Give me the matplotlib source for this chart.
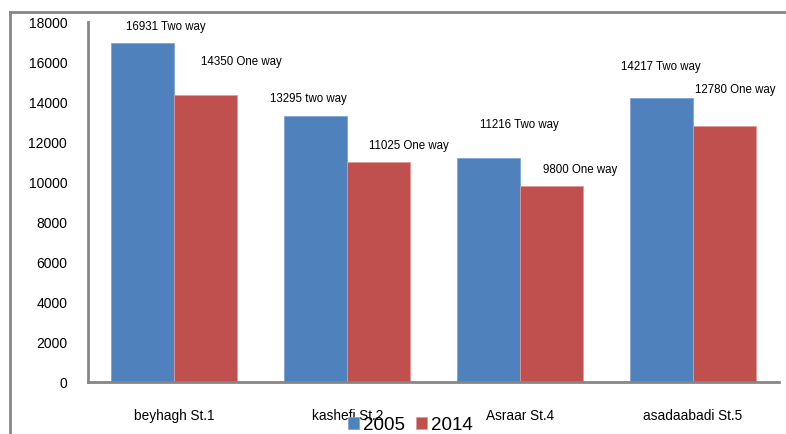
import matplotlib
matplotlib.use("Agg")
import matplotlib.pyplot as plt
from matplotlib.lines import Line2D
import numpy as np

plt.rcParams['font.family'] = ['Liberation Sans', 'DejaVu Sans']

streets = ["beyhagh St.1", "kashefi St.2", "Asraar St.4", "asadaabadi St.5"]
years = ["2005", "2014"]
traffic_2005 = [16931, 13295, 11216, 14217]
traffic_2014 = [14350, 11025, 9800, 12780]
labels_2005 = ["16931 Two way", "13295 two way", "11216 Two way", "14217 Two way"]
labels_2014 = ["14350 One way", "11025 One way", "9800 One way", "12780 One way"]
y_ticks = [0, 2000, 4000, 6000, 8000, 10000, 12000, 14000, 16000, 18000]

blue = "#4F81BD"
red = "#C0504D"
grey = "#868686"

# label offsets (pixels) from the top centre of each bar
off_2005 = [(23, 17), (-7, 18), (31, 34), (0, 32)]
off_2014 = [(35, 34), (30, 16), (29, 17), (11, 37)]

fig = plt.figure(figsize=(7.86, 4.35), dpi=100)
ax = fig.add_axes([88 / 786, 1 - 383 / 435, (779 - 88) / 786, (383 - 23) / 435])

x = np.arange(len(streets))
w = 0.365
b1 = ax.bar(x - w / 2, traffic_2005, w, color=blue, edgecolor="#7FA3D3", linewidth=0.6, label=years[0])
b2 = ax.bar(x + w / 2, traffic_2014, w, color=red, edgecolor="#E09B99", linewidth=0.6, label=years[1])

for bars, vals, texts, offs in [(b1, traffic_2005, labels_2005, off_2005),
                                (b2, traffic_2014, labels_2014, off_2014)]:
    for rect, v, t, (dx, dy) in zip(bars, vals, texts, offs):
        ax.annotate(t, (rect.get_x() + rect.get_width() / 2, v),
                    xytext=(dx, dy), textcoords="offset pixels",
                    ha="center", va="center", fontsize=8.3, color="black")

ax.set_xlim(-0.5, len(streets) - 0.5)
ax.set_ylim(0, 18000)
ax.set_yticks(y_ticks)
ax.set_yticklabels([str(v) for v in y_ticks], fontsize=10)
ax.set_xticks(x)
ax.set_xticklabels(streets, fontsize=9.8)
ax.tick_params(axis="y", length=0, pad=15)
ax.tick_params(axis="x", length=0, pad=19)

for s in ["top", "right"]:
    ax.spines[s].set_visible(False)
for s in ["left", "bottom"]:
    ax.spines[s].set_color(grey)
    ax.spines[s].set_linewidth(2)

leg = fig.legend(handles=[b1, b2], labels=years, loc="center", ncol=2,
                 bbox_to_anchor=(410 / 786, 1 - 426 / 435), frameon=False,
                 fontsize=13.5, handlelength=0.6, handleheight=0.6,
                 handletextpad=0.2, columnspacing=0.6, borderpad=0)

# chart area border
fig.add_artist(Line2D([9.5 / 786, 9.5 / 786], [0, 1 - 12.5 / 435], transform=fig.transFigure,
                      color=grey, linewidth=2))
fig.add_artist(Line2D([9.5 / 786, 1], [1 - 12.5 / 435, 1 - 12.5 / 435], transform=fig.transFigure,
                      color=grey, linewidth=2))

fig.savefig("out.png", dpi=100)
